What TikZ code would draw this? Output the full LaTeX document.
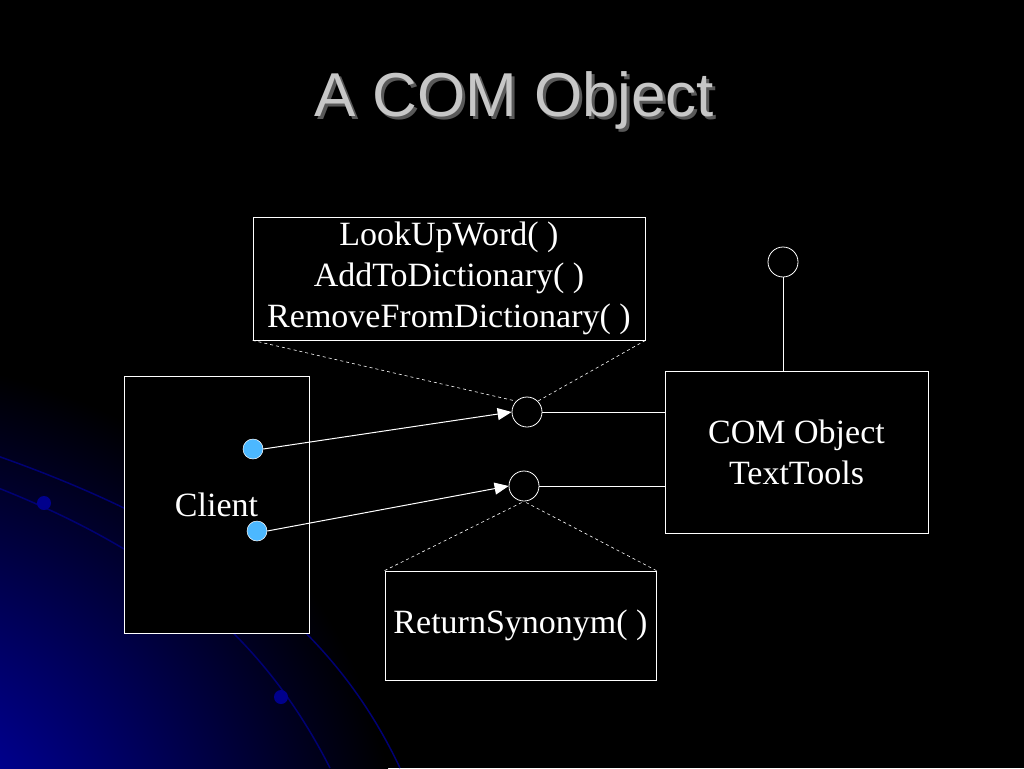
\documentclass[tikz,border=0pt]{standalone}
\usepackage{fontspec}
\usetikzlibrary{arrows.meta}
\setmainfont{Liberation Serif}
\newfontfamily\titlefont{Liberation Sans}
\begin{document}
\begin{tikzpicture}[x=1pt,y=-1pt,
  box/.style={draw=white,line width=0.8pt,fill=black,text=white,align=center,font=\fontsize{34}{41}\selectfont,inner sep=0pt},
  port/.style={circle,draw=white,line width=0.8pt,minimum size=30pt,inner sep=0pt},
  dot/.style={circle,fill=blue!40!cyan!70!white,draw=white,line width=0.5pt,minimum width=20pt,minimum height=18pt,inner sep=0pt},
  link/.style={draw=white,line width=1pt},
  dashline/.style={draw=white,dashed,line width=0.6pt}]
\fill[black] (0,0) rectangle (1024,768);
\useasboundingbox (0,0) rectangle (1024,768);
\begin{scope}
\clip (0,0) rectangle (1024,768);
\shade[inner color=blue!80!black,outer color=black] (-120,880) circle (520);
\draw[blue!45!black,line width=1.5pt] (-50,440) .. controls (200,520) and (330,620) .. (400,768);
\draw[blue!45!black,line width=1.5pt] (-50,470) .. controls (150,540) and (260,630) .. (330,768);
\fill[blue!55!black] (44,503) circle (7);
\fill[blue!55!black] (281,697) circle (7);
\end{scope}
\node[text=white!35!black,font=\titlefont\fontsize{62}{62}\selectfont] at (517,103) {A COM Object};
\node[text=white!78!black,font=\titlefont\fontsize{62}{62}\selectfont] (title) at (514,100) {A COM Object};
\node[box,minimum width=392pt,minimum height=123pt] (methods) at (449,278.5) {LookUpWord( )\\AddToDictionary( )\\RemoveFromDictionary( )};
\node[box,minimum width=185pt,minimum height=257pt] (client) at (216.5,504.5) {Client};
\node[box,minimum width=263pt,minimum height=162pt] (com) at (796.5,452) {COM Object\\TextTools};
\node[box,minimum width=271pt,minimum height=109pt] (syn) at (520.5,625.5) {ReturnSynonym( )};
\node[port] (c1) at (527,412) {};
\node[port] (c2) at (524,486) {};
\node[port] (c3) at (783,262) {};
\node[dot] (d1) at (253,449) {};
\node[dot] (d2) at (257,531) {};
\draw[link] (c1.east) -- (c1.east -| com.west);
\draw[link] (c2.east) -- (c2.east -| com.west);
\draw[link] (c3.south) -- (c3.south |- com.north);
\draw[link,-{Triangle[length=14pt,width=12pt]}] (d1.east) -- (c1.west);
\draw[link,-{Triangle[length=14pt,width=12pt]}] (d2.east) -- (c2.west);
\draw[dashline] (methods.south west) -- (c1.north west);
\draw[dashline] (methods.south east) -- (c1.north east);
\draw[dashline] (syn.north west) -- (c2.south);
\draw[dashline] (syn.north east) -- (c2.south);
\end{tikzpicture}
\end{document}
